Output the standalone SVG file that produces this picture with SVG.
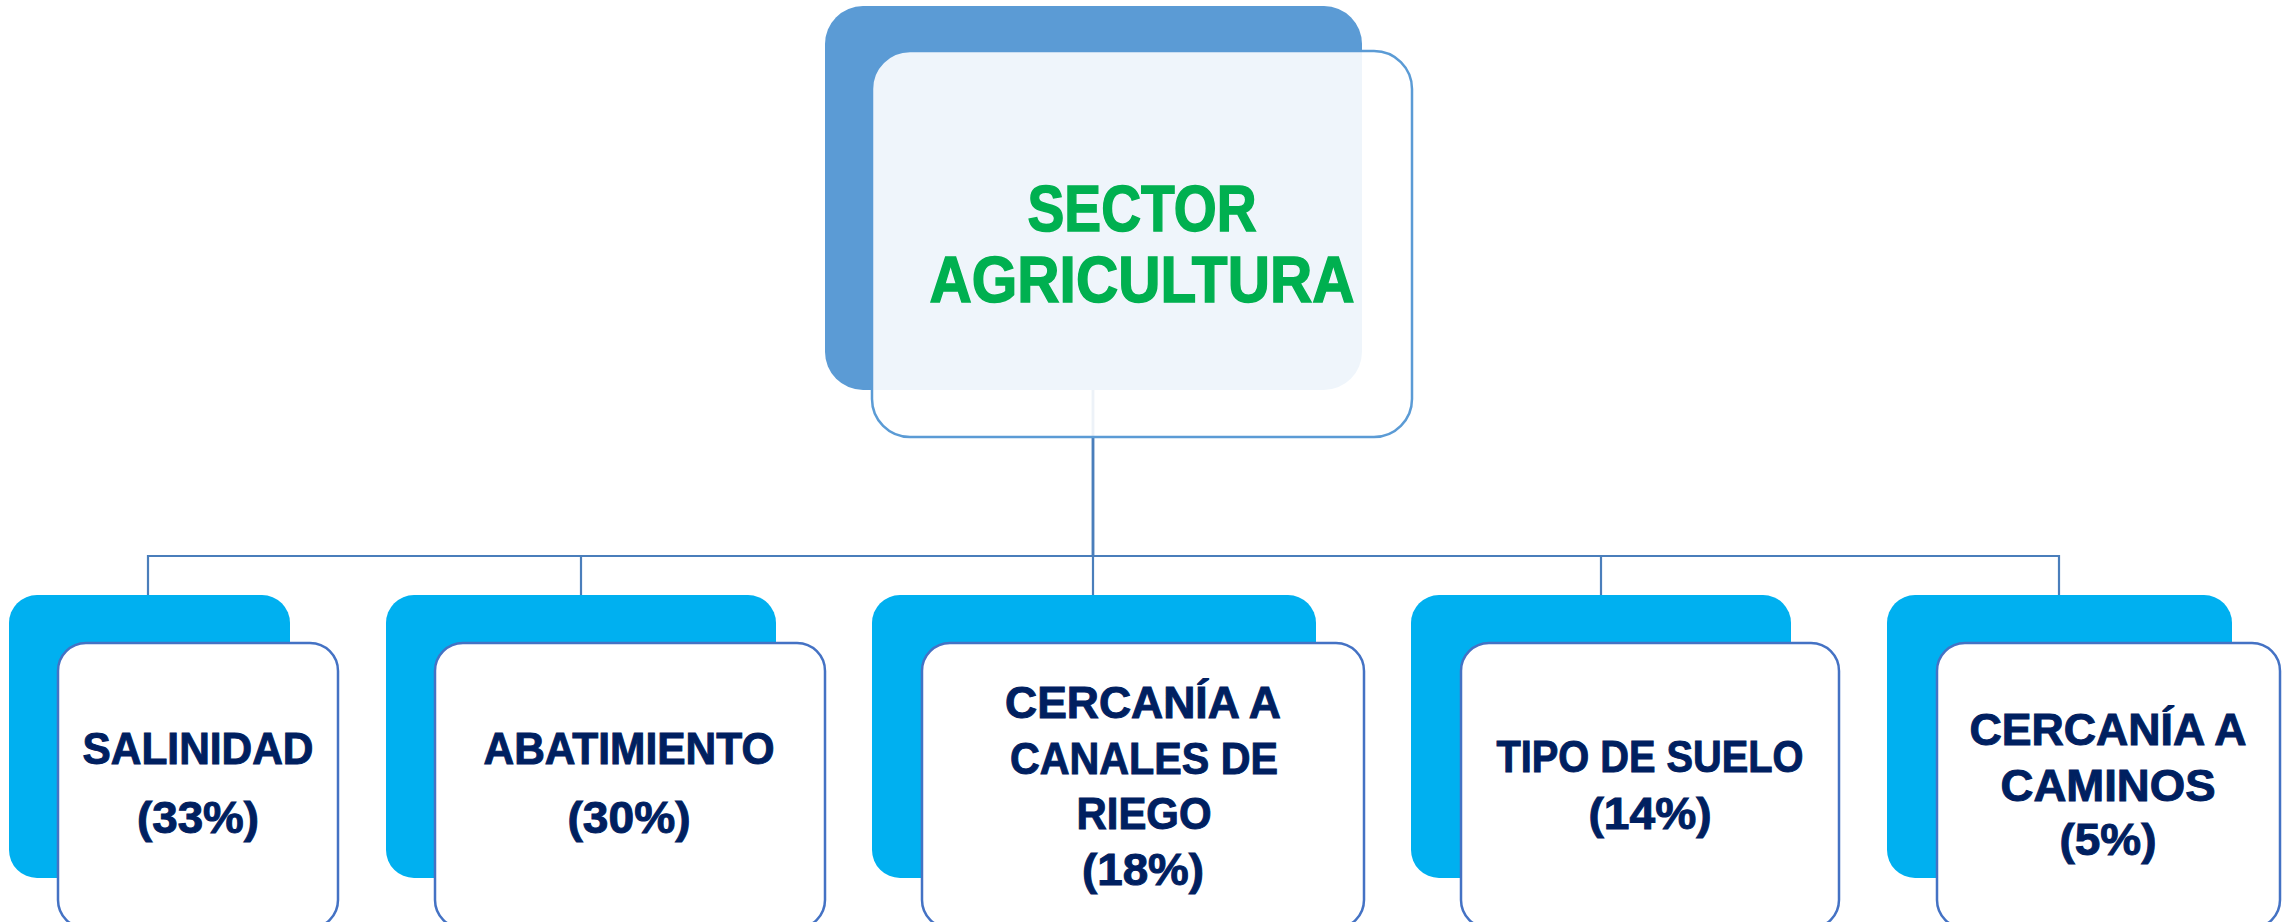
<svg xmlns="http://www.w3.org/2000/svg" width="2289" height="922" viewBox="0 0 2289 922">
<style>
.top-back{fill:#5B9BD5;}
.top-front{fill:#FFFFFF;fill-opacity:0.9;stroke:#5B9BD5;stroke-width:2.5;}
.back{fill:#00B0F0;}
.front{fill:#FFFFFF;stroke:#4472C4;stroke-width:2.5;}
.conn{fill:none;stroke:#4A7EBB;stroke-width:2.2;}
.title{font-family:"Liberation Sans",Arial,sans-serif;font-weight:bold;font-size:65px;fill:#00B050;stroke:#00B050;stroke-width:1.5;text-anchor:middle;}
.lbl{font-family:"Liberation Sans",Arial,sans-serif;font-weight:bold;font-size:45px;fill:#002060;stroke:#002060;stroke-width:1;text-anchor:middle;}
</style>
<rect width="2289" height="922" fill="#FFFFFF"/>
<g id="connectors">
<path class="conn" d="M1093,390 V556 H148 V595"/>
<path class="conn" d="M1093,390 V556 H581 V595"/>
<path class="conn" d="M1093,390 V595"/>
<path class="conn" d="M1093,390 V556 H1601 V595"/>
<path class="conn" d="M1093,390 V556 H2059 V595"/>
</g>
<g id="node-sector">
<rect class="top-back" x="825" y="6" width="537" height="384" rx="38"/>
<rect class="top-front" x="872" y="51" width="540" height="386" rx="38"/>
<text class="title" x="1142" y="231" textLength="229" lengthAdjust="spacingAndGlyphs">SECTOR</text>
<text class="title" x="1142" y="302" textLength="425" lengthAdjust="spacingAndGlyphs">AGRICULTURA</text>
</g>
<g id="node-salinidad">
<rect class="back" x="9" y="595" width="281" height="283" rx="28"/>
<rect class="front" x="58" y="643" width="280" height="285" rx="28"/>
<text class="lbl" x="198" y="764" textLength="231" lengthAdjust="spacingAndGlyphs">SALINIDAD</text>
<text class="lbl" x="198" y="833" textLength="122" lengthAdjust="spacingAndGlyphs">(33%)</text>
</g>
<g id="node-abatimiento">
<rect class="back" x="386" y="595" width="390" height="283" rx="28"/>
<rect class="front" x="435" y="643" width="390" height="285" rx="28"/>
<text class="lbl" x="629" y="764" textLength="291" lengthAdjust="spacingAndGlyphs">ABATIMIENTO</text>
<text class="lbl" x="629" y="833" textLength="123" lengthAdjust="spacingAndGlyphs">(30%)</text>
</g>
<g id="node-canales">
<rect class="back" x="872" y="595" width="444" height="283" rx="28"/>
<rect class="front" x="922" y="643" width="442" height="285" rx="28"/>
<text class="lbl" x="1143" y="718" textLength="276" lengthAdjust="spacingAndGlyphs">CERCANÍA A</text>
<text class="lbl" x="1144" y="774" textLength="268" lengthAdjust="spacingAndGlyphs">CANALES DE</text>
<text class="lbl" x="1144" y="829" textLength="135" lengthAdjust="spacingAndGlyphs">RIEGO</text>
<text class="lbl" x="1143" y="885" textLength="122" lengthAdjust="spacingAndGlyphs">(18%)</text>
</g>
<g id="node-suelo">
<rect class="back" x="1411" y="595" width="380" height="283" rx="28"/>
<rect class="front" x="1461" y="643" width="378" height="285" rx="28"/>
<text class="lbl" x="1650" y="772" textLength="307" lengthAdjust="spacingAndGlyphs">TIPO DE SUELO</text>
<text class="lbl" x="1650" y="829" textLength="123" lengthAdjust="spacingAndGlyphs">(14%)</text>
</g>
<g id="node-caminos">
<rect class="back" x="1887" y="595" width="345" height="283" rx="28"/>
<rect class="front" x="1937" y="643" width="343" height="285" rx="28"/>
<text class="lbl" x="2108" y="745" textLength="277" lengthAdjust="spacingAndGlyphs">CERCANÍA A</text>
<text class="lbl" x="2108" y="801" textLength="215" lengthAdjust="spacingAndGlyphs">CAMINOS</text>
<text class="lbl" x="2108" y="855" textLength="97" lengthAdjust="spacingAndGlyphs">(5%)</text>
</g>
</svg>
